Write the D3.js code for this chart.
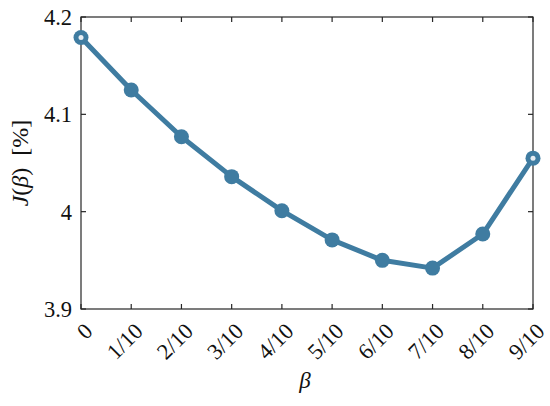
<!DOCTYPE html>
<html><head><meta charset="utf-8">
<script src="https://cdn.jsdelivr.net/npm/d3@7"></script>
<style>body{margin:0;background:#fff}svg{display:block}</style>
</head><body>
<svg id="c" width="550" height="406"></svg>
<script>
const betaLabels = ["0","1/10","2/10","3/10","4/10","5/10","6/10","7/10","8/10","9/10"];
const betaValues = [0,0.1,0.2,0.3,0.4,0.5,0.6,0.7,0.8,0.9];
const J = [4.179,4.125,4.077,4.036,4.001,3.971,3.950,3.942,3.977,4.055];
const yTicks = [3.9,4.0,4.1,4.2];
const yTickLabels = ["3.9","4","4.1","4.2"];

const W=550,H=406, m={l:81,t:17,r:17,b:97};
const svg=d3.select("#c");
const x=d3.scaleLinear().domain([0,0.9]).range([m.l,W-m.r]);
const y=d3.scaleLinear().domain([3.9,4.2]).range([H-m.b,m.t]);
const col="#3f7ca1", axc="#262626", FF="Liberation Serif";

svg.append("rect").attr("x",m.l).attr("y",m.t).attr("width",W-m.r-m.l).attr("height",H-m.b-m.t)
  .attr("fill","none").attr("stroke",axc).attr("stroke-width",1.2);
const g=svg.append("g").attr("stroke",axc).attr("stroke-width",1.2);
betaValues.forEach(v=>{
  g.append("line").attr("x1",x(v)).attr("x2",x(v)).attr("y1",H-m.b).attr("y2",H-m.b-5);
  g.append("line").attr("x1",x(v)).attr("x2",x(v)).attr("y1",m.t).attr("y2",m.t+5);
});
yTicks.forEach(v=>{
  g.append("line").attr("x1",m.l).attr("x2",m.l+5).attr("y1",y(v)).attr("y2",y(v));
  g.append("line").attr("x1",W-m.r).attr("x2",W-m.r-5).attr("y1",y(v)).attr("y2",y(v));
});
svg.selectAll(".yl").data(yTicks).enter().append("text")
  .attr("x",m.l-9).attr("y",d=>y(d)).attr("dy","0.35em").attr("text-anchor","end")
  .style("font-family",FF).style("font-size","22.5px").attr("fill","#111")
  .text((d,i)=>yTickLabels[i]);
svg.selectAll(".xl").data(betaValues).enter().append("text")
  .attr("transform",d=>`translate(${x(d)+7.4},${H-m.b+18}) rotate(-45)`)
  .attr("dy","0.35em").attr("text-anchor","end")
  .style("font-family",FF).style("font-size","22.5px").attr("fill","#111")
  .text((d,i)=>betaLabels[i]);
svg.append("text").attr("x",(m.l+W-m.r)/2-2).attr("y",388).attr("text-anchor","middle")
  .style("font-family",FF).style("font-size","23px").style("font-style","italic").attr("fill","#111").text("β");
const yl=svg.append("text").attr("transform",`translate(28,${(m.t+H-m.b)/2}) rotate(-90)`)
  .attr("text-anchor","middle").style("font-family",FF).style("font-size","24px").attr("fill","#111").attr("xml:space","preserve");
yl.append("tspan").style("font-style","italic").text("J");
yl.append("tspan").text("(");
yl.append("tspan").style("font-style","italic").text("β");
yl.append("tspan").text(")  [%]");

const pts=betaValues.map((v,i)=>[v,J[i]]);
svg.append("path").datum(pts).attr("fill","none").attr("stroke",col).attr("stroke-width",5)
  .attr("stroke-linejoin","round").attr("d",d3.line().x(d=>x(d[0])).y(d=>y(d[1])));
svg.selectAll(".mk").data(pts).enter().append("circle")
  .attr("cx",d=>x(d[0])).attr("cy",d=>y(d[1])).attr("r",7.5).attr("fill",col);
svg.selectAll(".mh").data([pts[0],pts[pts.length-1]]).enter().append("circle")
  .attr("cx",d=>x(d[0])).attr("cy",d=>y(d[1])).attr("r",2.5).attr("fill","#e8eef3");
</script></body></html>
